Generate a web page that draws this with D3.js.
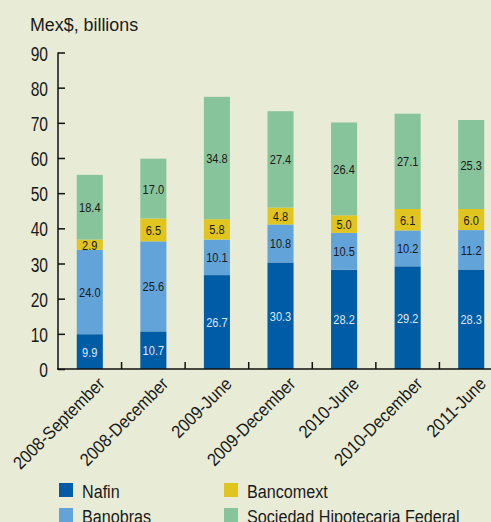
<!DOCTYPE html>
<html><head><meta charset="utf-8">
<script src="https://cdn.jsdelivr.net/npm/d3@7"></script>
<style>
html,body{margin:0;padding:0;background:#e8ebd6;}
svg{display:block;}
text{font-family:"Liberation Sans",Arial,sans-serif;}
</style></head>
<body><svg id="c" width="491" height="522"></svg>
<script>
const categories = ["2008-September","2008-December","2009-June","2009-December","2010-June","2010-December","2011-June"];
const seriesNames = ["Nafin","Banobras","Bancomext","Sociedad Hipotecaria Federal"];
const nafin = [9.9,10.7,26.7,30.3,28.2,29.2,28.3];
const banobras = [24.0,25.6,10.1,10.8,10.5,10.2,11.2];
const bancomext = [2.9,6.5,5.8,4.8,5.0,6.1,6.0];
const shf = [18.4,17.0,34.8,27.4,26.4,27.1,25.3];
const yTicks = [0,10,20,30,40,50,60,70,80,90];
const colors = ["#005ca5","#62a4da","#e1c51f","#87c49b"];
const labelColors = ["#dce8f4","#1a1a1a","#1a1a1a","#1a1a1a"];

const svg = d3.select("#c");
function txt(parent, x, y, str, size, sx, anchor, rot){
  return parent.append("text")
    .attr("transform",`translate(${x},${y})${rot?` rotate(${rot})`:""} scale(${sx},1)`)
    .attr("font-size",size).attr("text-anchor",anchor||"start").attr("fill","#1a1a1a").text(str);
}
const values = [nafin,banobras,bancomext,shf];
const rows = categories.map((c,i)=>{const o={cat:c}; seriesNames.forEach((s,j)=>o[s]=values[j][i]); return o;});
const stacked = d3.stack().keys(seriesNames)(rows);

const x = d3.scaleBand().domain(categories).range([58,503]).paddingInner(0.59).paddingOuter(0.295);
const y = d3.scaleLinear().domain([0,90]).range([369,52.5]);

// bars
const g = svg.append("g");
stacked.forEach((layer,j)=>{
  g.selectAll(null).data(layer).enter().append("rect")
    .attr("x",d=>x(d.data.cat)).attr("width",x.bandwidth())
    .attr("y",d=>y(d[1])).attr("height",d=>y(d[0])-y(d[1]))
    .attr("fill",colors[j]);
  layer.forEach(d=>{
    txt(g, x(d.data.cat)+x.bandwidth()/2, (y(d[0])+y(d[1]))/2+5, (d[1]-d[0]).toFixed(1), 13.5, 0.82, "middle")
      .attr("fill",labelColors[j]);
  });
});

// y axis
const yAxis = d3.axisRight(y).tickValues(yTicks).tickSize(7).tickFormat("");
const ya = svg.append("g").attr("transform","translate(58,0)").call(yAxis);
ya.select(".domain").attr("d","M0,"+y(90)+"V"+y(0)).attr("stroke","#111").attr("stroke-width",1.5);
ya.selectAll(".tick line").attr("stroke","#111").attr("stroke-width",1.5);
const yl = svg.append("g");
yTicks.forEach(d=>txt(yl, 48, y(d)+8, d, 19.5, 0.8, "end"));

// x axis
svg.append("line").attr("x1",57).attr("x2",491).attr("y1",369).attr("y2",369)
  .attr("stroke","#111").attr("stroke-width",1.5);
const step = x.step();
svg.append("g").selectAll("line").data(categories.slice(1)).enter().append("line")
  .attr("x1",d=>x(d)-x.paddingInner()*step/2).attr("x2",d=>x(d)-x.paddingInner()*step/2)
  .attr("y1",369).attr("y2",362).attr("stroke","#111").attr("stroke-width",1.5);
const xl = svg.append("g");
categories.forEach(c=>txt(xl, x(c)+x.bandwidth()/2+16, 385, c, 18, 0.9, "end", -45));

// title
txt(svg, 30, 31, "Mex$, billions", 19, 0.94);

// legend
const lx=[59,224], ly=[483,508];
seriesNames.forEach((s,j)=>{
  const cx = lx[Math.floor(j/2)], cy = ly[j%2];
  svg.append("rect").attr("x",cx).attr("y",cy).attr("width",14).attr("height",14).attr("fill",colors[j]);
  txt(svg, cx+23, cy+15, s, 19, 0.85);
});
</script></body></html>
